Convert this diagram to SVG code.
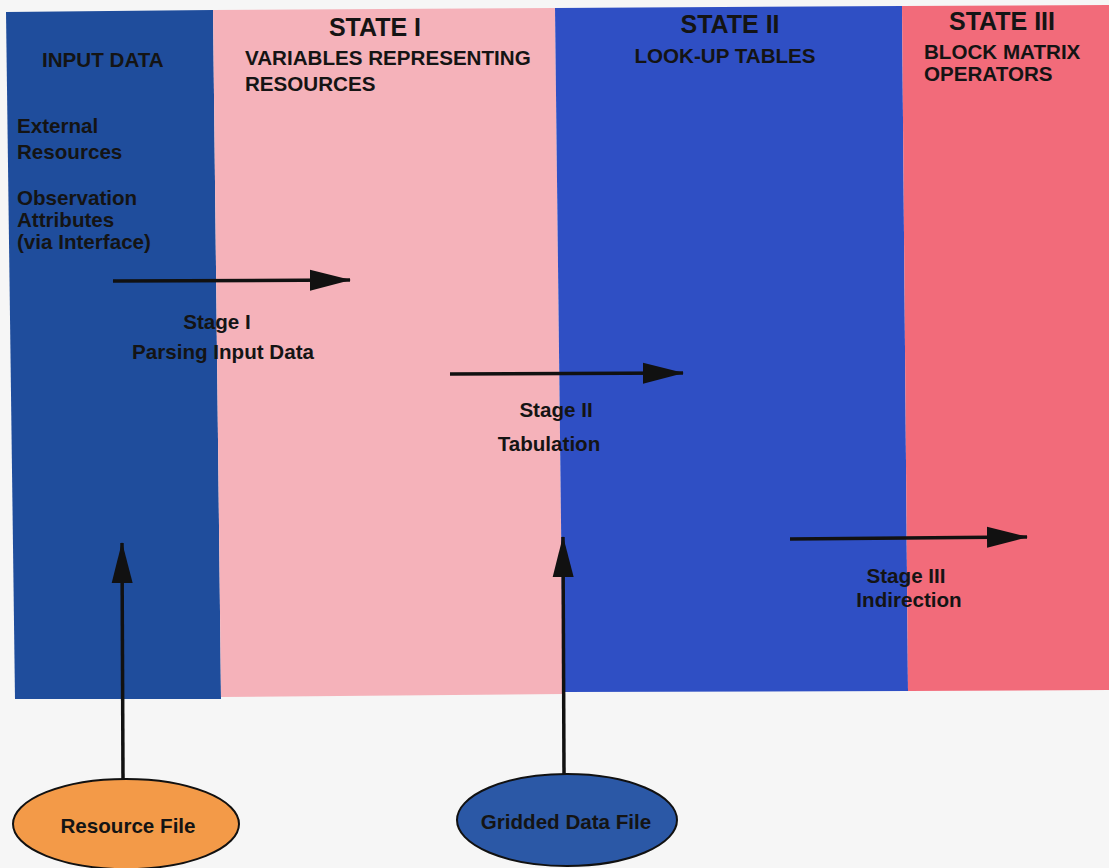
<svg xmlns="http://www.w3.org/2000/svg" width="1109" height="868" viewBox="0 0 1109 868">
  <style>
    .t { font-family: "Liberation Sans", Arial, sans-serif; font-weight: bold; fill: #141414; }
    .h { font-size: 25px; }
    .s { font-size: 20.6px; }
    .m { text-anchor: middle; }
    .conn { stroke: #111; stroke-width: 3.5; fill: none; }
  </style>
  <defs>
    <marker id="head" markerUnits="userSpaceOnUse" markerWidth="42" markerHeight="24" refX="40" refY="12" orient="auto">
      <polygon points="0,1.5 41,12 0,22.5" fill="#111"/>
    </marker>
  </defs>

  <rect width="1109" height="868" fill="#f6f6f6"/>

  <!-- columns -->
  <g id="col-input">
    <polygon points="6,12 213,10 221,699 15,699" fill="#1f4d9c"/>
    <text class="t s" x="42" y="67">INPUT DATA</text>
    <text class="t s" x="17" y="133">External</text>
    <text class="t s" x="17" y="159">Resources</text>
    <text class="t s" x="17" y="205">Observation</text>
    <text class="t s" x="17" y="227">Attributes</text>
    <text class="t s" x="17" y="249">(via Interface)</text>
  </g>
  <g id="col-state1">
    <polygon points="213,10 555,8 563,694 221,697" fill="#f5b2ba"/>
    <text class="t h m" x="375" y="36">STATE I</text>
    <text class="t s" x="245" y="65">VARIABLES REPRESENTING</text>
    <text class="t s" x="245" y="91">RESOURCES</text>
  </g>
  <g id="col-state2">
    <polygon points="555,8 902,6 908,691 563,692" fill="#2f4fc4"/>
    <text class="t h m" x="730" y="33">STATE II</text>
    <text class="t s m" x="725" y="63">LOOK-UP TABLES</text>
  </g>
  <g id="col-state3">
    <polygon points="902,6 1109,5 1109,690 908,691" fill="#f26b7a"/>
    <text class="t h m" x="1002" y="30">STATE III</text>
    <text class="t s" x="924" y="59">BLOCK MATRIX</text>
    <text class="t s" x="924" y="81">OPERATORS</text>
  </g>

  <!-- stage labels -->
  <g id="stage1">
    <text class="t s m" x="217" y="329">Stage I</text>
    <text class="t s m" x="223" y="359">Parsing Input Data</text>
  </g>
  <g id="stage2">
    <text class="t s m" x="556" y="417">Stage II</text>
    <text class="t s m" x="549" y="451">Tabulation</text>
  </g>
  <g id="stage3">
    <text class="t s m" x="906" y="583">Stage III</text>
    <text class="t s m" x="909" y="607">Indirection</text>
  </g>

  <!-- source files -->
  <g id="resource-file">
    <ellipse cx="126" cy="824" rx="113" ry="45" fill="#f39a48" stroke="#111" stroke-width="2"/>
    <text class="t s m" x="128" y="833">Resource File</text>
  </g>
  <g id="gridded-data-file">
    <ellipse cx="567" cy="820" rx="110" ry="46" fill="#2b58a6" stroke="#111" stroke-width="2"/>
    <text class="t s m" x="566" y="829">Gridded Data File</text>
  </g>

  <!-- connectors -->
  <g id="connectors">
    <line class="conn" x1="113" y1="281" x2="350" y2="280" marker-end="url(#head)"/>
    <line class="conn" x1="450" y1="374" x2="683" y2="373" marker-end="url(#head)"/>
    <line class="conn" x1="790" y1="539" x2="1027" y2="537" marker-end="url(#head)"/>
    <line class="conn" x1="123" y1="779" x2="122" y2="543" marker-end="url(#head)"/>
    <line class="conn" x1="564" y1="774" x2="563" y2="537" marker-end="url(#head)"/>
  </g>
</svg>
